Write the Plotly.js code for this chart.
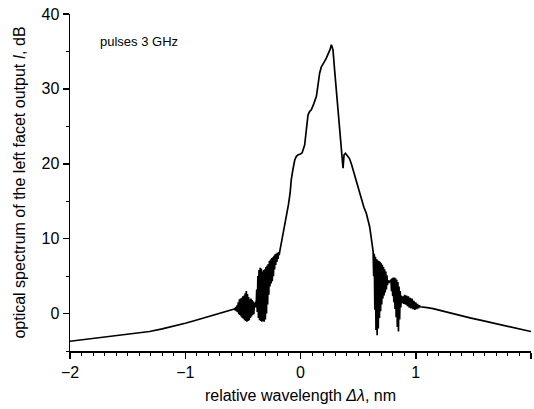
<!DOCTYPE html>
<html>
<head>
<meta charset="utf-8">
<script src="https://cdn.plot.ly/plotly-3.0.1.min.js"></script>
<style>html,body{margin:0;padding:0;background:#fff;}#chart{width:534px;height:409px;}</style>
</head>
<body>
<div id="chart"></div>
<script>
// Left smooth tail
const leftTailX = [-2.00, -1.80, -1.60, -1.40, -1.31, -1.20, -1.10, -1.00, -0.93, -0.85, -0.75, -0.64, -0.60, -0.575];
const leftTailY = [-3.7, -3.35, -2.95, -2.55, -2.4, -2.05, -1.7, -1.3, -1.0, -0.65, -0.25, 0.3, 0.5, 0.6];

// Left noisy region (two spike clusters + transition)
const leftNoiseX = [-0.570, -0.565, -0.560, -0.555, -0.550, -0.545,
  -0.540, -0.535, -0.530, -0.525, -0.520, -0.515, -0.510, -0.505, -0.500, -0.495,
  -0.490, -0.485, -0.480, -0.475, -0.470, -0.465, -0.460, -0.455, -0.450, -0.445,
  -0.440, -0.435, -0.430, -0.425, -0.420, -0.415, -0.410, -0.405, -0.400,
  -0.395, -0.390, -0.385,
  -0.380, -0.375, -0.370, -0.365, -0.360, -0.355, -0.350, -0.345, -0.340, -0.335,
  -0.330, -0.325, -0.320, -0.315, -0.310, -0.305, -0.300, -0.295, -0.290, -0.285,
  -0.280, -0.275, -0.270,
  -0.265, -0.260, -0.255, -0.250, -0.245, -0.240, -0.235, -0.230, -0.225, -0.220,
  -0.215, -0.210, -0.205, -0.200, -0.195, -0.190, -0.185, -0.180];
const leftNoiseY = [0.7, 0.4, 0.9, 0.3, 1.1, 0.2,
  1.5, -0.1, 1.9, -0.2, 2.0, -0.4, 2.1, -0.6, 2.3, -0.7,
  2.4, -0.9, 2.7, -1.0, 3.0, -1.1, 2.6, -1.0, 2.2, -0.9,
  1.9, -0.6, 2.0, -0.4, 1.8, -0.2, 1.6, -0.1, 1.4,
  0.9, 1.6, 0.8,
  3.2, 0.2, 5.0, -0.6, 5.8, -0.9, 6.1, -1.0, 6.0, -1.1,
  5.6, -1.0, 5.8, -1.1, 5.9, -0.8, 6.2, 0.0, 6.4, 1.2,
  6.6, 2.5, 7.0,
  3.6, 7.2, 4.0, 7.4, 4.3, 7.5, 5.0, 7.7, 5.9, 7.9,
  6.5, 8.0, 6.9, 8.1, 7.3, 8.2, 7.8, 8.3];

// Central peak
const peakX = [-0.165, -0.150, -0.135, -0.120, -0.105, -0.090, -0.080, -0.065, -0.050, -0.036,
  -0.020, 0.000, 0.015, 0.036, 0.050, 0.065, 0.080, 0.094, 0.115, 0.138,
  0.150, 0.166, 0.180, 0.195, 0.210, 0.224, 0.240, 0.255, 0.268, 0.282,
  0.296, 0.311, 0.325, 0.340, 0.352, 0.360, 0.369, 0.378, 0.390, 0.400,
  0.412, 0.425, 0.441, 0.460, 0.484, 0.505, 0.528, 0.550, 0.571, 0.586,
  0.600, 0.612, 0.623];
const peakY = [9.5, 10.8, 11.9, 13.0, 14.5, 16.1, 17.9, 19.3, 20.5, 21.0,
  21.2, 21.3, 21.5, 22.5, 24.5, 26.5, 27.0, 27.2, 28.0, 29.0,
  30.3, 32.1, 32.9, 33.4, 33.7, 34.1, 34.6, 35.2, 35.9, 35.2,
  32.5, 29.9, 27.4, 25.0, 23.0, 21.4, 19.4, 21.2, 21.4, 21.2,
  21.0, 20.7, 20.0, 19.0, 17.4, 16.4, 15.2, 14.2, 13.4, 12.5,
  11.6, 10.3, 9.4];

// Right noisy region (three spike clusters)
const rightNoiseX = [0.630, 0.635, 0.640, 0.645, 0.650, 0.655, 0.660, 0.665, 0.670, 0.675,
  0.680, 0.685, 0.690, 0.695, 0.700, 0.705, 0.710, 0.715, 0.720, 0.725,
  0.730, 0.735, 0.740, 0.745, 0.750, 0.755,
  0.760, 0.770, 0.778,
  0.785, 0.790, 0.795, 0.800, 0.805, 0.810, 0.815, 0.820, 0.825, 0.830,
  0.835, 0.840, 0.845, 0.850, 0.855, 0.860, 0.865, 0.870, 0.875,
  0.880, 0.888, 0.896, 0.904, 0.912, 0.920, 0.928, 0.936, 0.944, 0.952,
  0.960, 0.968, 0.976, 0.984, 0.992, 1.000, 1.008, 1.016, 1.024, 1.032, 1.040];
const rightNoiseY = [8.3, 5.0, 8.0, 0.5, 7.6, -2.2, 7.3, -2.9, 7.1, -2.0,
  7.0, -0.6, 6.9, 0.3, 6.7, 1.2, 6.5, 2.0, 6.2, 2.4,
  5.9, 2.8, 5.6, 3.2, 5.1, 3.8,
  4.4, 4.2, 4.3,
  4.5, 3.0, 4.7, 2.3, 4.8, 1.5, 4.8, 0.6, 4.7, -0.5,
  4.5, -1.8, 4.2, -2.4, 3.6, -0.8, 3.0, 0.8, 2.4,
  1.4, 2.3, 1.3, 2.5, 1.2, 2.4, 1.0, 2.3, 0.8, 2.1,
  0.7, 2.0, 0.6, 1.7, 0.5, 1.5, 0.6, 1.3, 0.7, 1.1, 0.9];

// Right smooth tail
const rightTailX = [1.07, 1.10, 1.15, 1.25, 1.37, 1.48, 1.58, 1.68, 1.78, 1.88, 2.00];
const rightTailY = [0.9, 0.8, 0.65, 0.25, -0.2, -0.6, -0.95, -1.3, -1.65, -2.0, -2.4];

const xTickVals = [-2, -1, 0, 1, 2];
const xTickText = ['\u22122', '\u22121', '0', '1', '2'];
const yTickVals = [0, 10, 20, 30, 40];

const xs = [].concat(leftTailX, leftNoiseX, peakX, rightNoiseX, rightTailX);
const ys = [].concat(leftTailY, leftNoiseY, peakY, rightNoiseY, rightTailY);

const FONT = 'Liberation Sans, Arial, Helvetica, sans-serif';

const trace = {
  x: xs, y: ys, type: 'scatter', mode: 'lines',
  line: {color: '#000', width: 1.7},
  hoverinfo: 'skip', showlegend: false
};

const layout = {
  width: 534, height: 409,
  margin: {l: 70, r: 3, t: 14, b: 58},
  paper_bgcolor: '#fff', plot_bgcolor: '#fff',
  font: {family: FONT, size: 16, color: '#000'},
  showlegend: false,
  xaxis: {
    range: [-2, 2], showgrid: false, zeroline: false,
    showline: true, linecolor: '#000', linewidth: 1.5,
    ticks: 'outside', ticklen: 6, tickwidth: 1.5, tickcolor: '#000',
    tickvals: xTickVals, ticktext: xTickText,
    tickfont: {family: FONT, size: 16, color: '#000'},
    minor: {dtick: 0.1, ticks: 'outside', ticklen: 3, tickwidth: 1, tickcolor: '#000', showgrid: false},
    title: {text: 'relative wavelength <i>\u0394\u03bb</i>, nm', font: {family: FONT, size: 16, color: '#000'}, standoff: 10}
  },
  yaxis: {
    range: [-5, 40], showgrid: false, zeroline: false,
    showline: true, linecolor: '#000', linewidth: 1.5,
    ticks: 'outside', ticklen: 6, tickwidth: 1.5, tickcolor: '#000',
    tickvals: yTickVals,
    tickfont: {family: FONT, size: 16, color: '#000'},
    minor: {dtick: 5, ticks: 'outside', ticklen: 3, tickwidth: 1, tickcolor: '#000', showgrid: false},
    title: {text: 'optical spectrum of the left facet output <i>I</i>, dB', font: {family: FONT, size: 16, color: '#000'}, standoff: 12}
  },
  annotations: [{
    text: 'pulses 3 GHz', xref: 'paper', yref: 'paper',
    x: (98 - 70) / 461, y: 1 - (42 - 14) / 337,
    xanchor: 'left', yanchor: 'middle', showarrow: false,
    font: {family: FONT, size: 13, color: '#000'}
  }]
};

Plotly.newPlot('chart', [trace], layout, {displayModeBar: false, staticPlot: true});
</script>
</body>
</html>
